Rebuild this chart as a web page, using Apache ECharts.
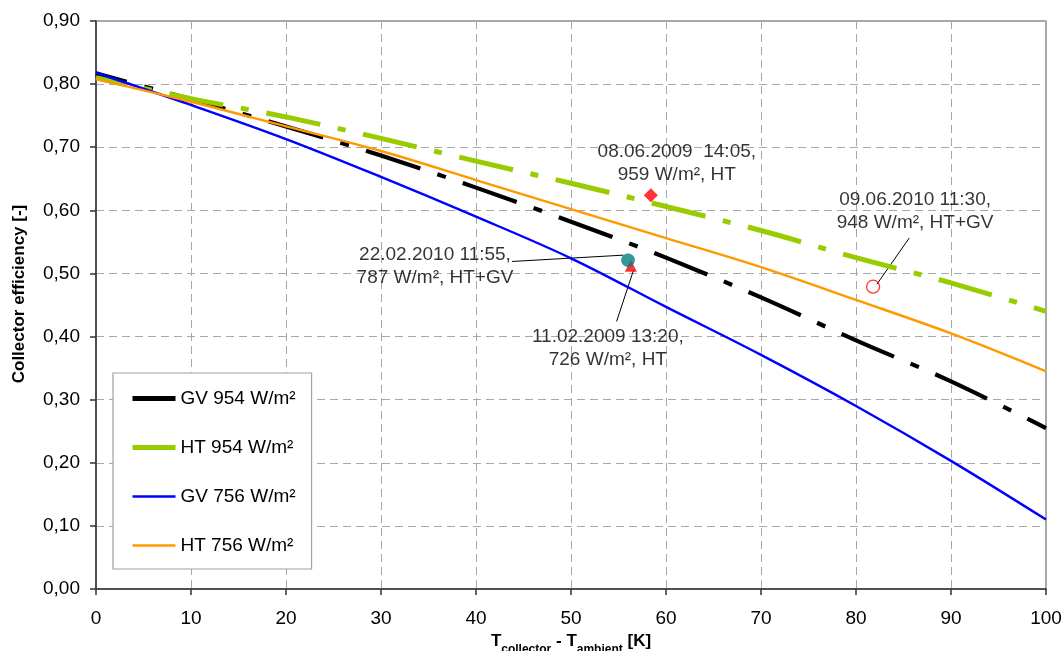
<!DOCTYPE html>
<html>
<head>
<meta charset="utf-8">
<title>Collector efficiency</title>
<script src="https://cdn.jsdelivr.net/npm/echarts@6.0.0/dist/echarts.min.js"></script>
<style>
  html, body { margin: 0; padding: 0; background: #fff; }
  #chart { width: 1062px; height: 651px; }
</style>
</head>
<body>
<div id="chart"></div>
<script>
// Temperature difference T_collector - T_ambient [K]
const deltaT = [0, 10, 20, 30, 40, 50, 60, 70, 80, 90, 100];

// Efficiency curves
const gv954 = [0.817, 0.776, 0.733, 0.687, 0.636, 0.582, 0.525, 0.462, 0.394, 0.329, 0.255];
const ht954 = [0.810, 0.777, 0.748, 0.714, 0.678, 0.643, 0.606, 0.568, 0.525, 0.485, 0.440];
const gv756 = [0.818, 0.767, 0.713, 0.653, 0.590, 0.524, 0.447, 0.371, 0.290, 0.203, 0.110];
const ht756 = [0.808, 0.772, 0.733, 0.694, 0.648, 0.602, 0.556, 0.510, 0.458, 0.405, 0.345];

const seriesNames = ['GV 954 W/m²', 'HT 954 W/m²', 'GV 756 W/m²', 'HT 756 W/m²'];

// Single measurements [deltaT, efficiency]
const measHT959 = [58.4, 0.624];
const measHTGV948 = [81.8, 0.479];
const measHTGV787 = [56.0, 0.521];
const measHT726 = [56.3, 0.512];

const noteHT959 = '08.06.2009  14:05,\n959 W/m², HT';
const noteHTGV948 = '09.06.2010 11:30,\n948 W/m², HT+GV';
const noteHTGV787 = '22.02.2010 11:55,\n787 W/m², HT+GV';
const noteHT726 = '11.02.2009 13:20,\n726 W/m², HT';

// Leader lines from note text to measurement
const leaderHTGV787 = [[43.8, 0.519], [55.5, 0.529]];
const leaderHT726 = [[54.8, 0.424], [56.6, 0.506]];
const leaderHTGV948 = [[85.6, 0.556], [82.2, 0.483]];

const xTicks = { min: 0, max: 100, interval: 10 };
const yTicks = { min: 0, max: 0.9, interval: 0.1 };

const FONT = '"Liberation Sans", Arial, Helvetica, sans-serif';

function pairs(ys) {
  return deltaT.map((x, i) => [x, ys[i]]);
}

function curve(name, ys, color, width, dash, offset) {
  return {
    name: name,
    type: 'line',
    data: pairs(ys),
    smooth: 0.35,
    symbol: 'none',
    showSymbol: false,
    clip: false,
    lineStyle: {
      color: color,
      width: width,
      type: dash || 'solid',
      dashOffset: offset || 0,
      cap: 'butt'
    },
    itemStyle: { color: color },
    emphasis: { disabled: true },
    animation: false
  };
}

function note(text, dx, dy) {
  return {
    show: true,
    position: 'inside',
    formatter: text,
    offset: [dx, dy],
    align: 'center',
    verticalAlign: 'middle',
    color: '#000',
    fontFamily: FONT,
    fontSize: 19,
    lineHeight: 23
  };
}

function legendItem(name, color, width) {
  return {
    name: name,
    itemStyle: { color: color, opacity: 0 },
    lineStyle: { type: 'solid', width: width, color: color, dashOffset: 0 }
  };
}

const chart = echarts.init(document.getElementById('chart'), null, { renderer: 'canvas' });

const option = {
  backgroundColor: '#fff',
  animation: false,
  textStyle: { fontFamily: FONT },
  grid: {
    left: 96, right: 16, top: 21, bottom: 62,
    containLabel: false,
    outerBoundsMode: 'none',
    show: true,
    backgroundColor: '#fff',
    borderColor: '#8c8c8c',
    borderWidth: 1.5
  },
  legend: {
    orient: 'vertical',
    left: 113,
    top: 373,
    padding: [16, 16, 14, 17],
    itemGap: 30,
    itemWidth: 43,
    itemHeight: 14,
    backgroundColor: '#fff',
    borderColor: '#a0a0a0',
    borderWidth: 1.2,
    borderRadius: 0,
    selectedMode: false,
    textStyle: { fontFamily: FONT, fontSize: 19, color: '#000' },
    data: [
      legendItem(seriesNames[0], '#000000', 5),
      legendItem(seriesNames[1], '#99cc00', 5),
      legendItem(seriesNames[2], '#0000ff', 2.5),
      legendItem(seriesNames[3], '#ff9900', 2.5)
    ]
  },
  xAxis: {
    type: 'value',
    min: xTicks.min, max: xTicks.max, interval: xTicks.interval,
    name: '{m|T}{s|collector}{m| - T}{s|ambient}{m| [K]}',
    nameLocation: 'middle',
    nameGap: 41,
    nameTextStyle: {
      rich: {
        m: { fontFamily: FONT, fontSize: 17, fontWeight: 'bold', color: '#000', lineHeight: 20, verticalAlign: 'top' },
        s: { fontFamily: FONT, fontSize: 12, fontWeight: 'bold', color: '#000', lineHeight: 12, padding: [11, 0, 0, 0], verticalAlign: 'top' }
      }
    },
    axisLine: { show: true, onZero: false, lineStyle: { color: '#333', width: 1.5 } },
    axisTick: { show: true, inside: false, length: 6, lineStyle: { color: '#333', width: 1.5 } },
    axisLabel: { margin: 20, fontFamily: FONT, fontSize: 19, color: '#000' },
    splitLine: { show: true, lineStyle: { color: '#a8a8a8', width: 1, type: [8, 5] } }
  },
  yAxis: {
    type: 'value',
    min: yTicks.min, max: yTicks.max, interval: yTicks.interval,
    name: 'Collector efficiency [-]',
    nameLocation: 'middle',
    nameGap: 68,
    nameRotate: 90,
    nameTextStyle: { fontFamily: FONT, fontSize: 17, fontWeight: 'bold', color: '#000', padding: [0, 0, 0, 22] },
    axisLine: { show: true, onZero: false, lineStyle: { color: '#333', width: 1.5 } },
    axisTick: { show: true, inside: false, length: 6, lineStyle: { color: '#333', width: 1.5 } },
    axisLabel: {
      margin: 16, fontFamily: FONT, fontSize: 19, color: '#000',
      formatter: v => v.toFixed(2).replace('.', ',')
    },
    splitLine: { show: true, lineStyle: { color: '#a8a8a8', width: 1, type: [8, 5] } }
  },
  series: [
    curve(seriesNames[0], gv954, '#000000', 4.2, [57, 18, 9, 18], 25),
    curve(seriesNames[1], ht954, '#99cc00', 5, [55, 18, 8, 18], 24),
    curve(seriesNames[2], gv756, '#0000ff', 2.4),
    curve(seriesNames[3], ht756, '#ff9900', 2.4),
    {
      name: 'leaders',
      type: 'lines',
      coordinateSystem: 'cartesian2d',
      polyline: false,
      silent: true,
      lineStyle: { color: '#000', width: 1, opacity: 1, curveness: 0 },
      symbol: 'none',
      data: [
        { coords: leaderHTGV787 },
        { coords: leaderHT726 },
        { coords: leaderHTGV948 }
      ],
      z: 3
    },
    {
      name: 'HT 726',
      type: 'scatter',
      symbol: 'triangle',
      symbolSize: 12,
      itemStyle: { color: '#ff0000' },
      data: [{ value: measHT726, label: note(noteHT726, -23, 82) }],
      z: 4
    },
    {
      name: 'HT+GV 787',
      type: 'scatter',
      symbol: 'circle',
      symbolSize: 13,
      itemStyle: { color: '#008080', borderColor: '#006666', borderWidth: 0.5 },
      data: [{ value: measHTGV787, label: note(noteHTGV787, -193, 6) }],
      z: 5
    },
    {
      name: 'HT 959',
      type: 'scatter',
      symbol: 'diamond',
      symbolSize: 14,
      itemStyle: { color: '#ff0000' },
      data: [{ value: measHT959, label: note(noteHT959, 26, -32) }],
      z: 5
    },
    {
      name: 'HT+GV 948',
      type: 'scatter',
      symbol: 'circle',
      symbolSize: 13,
      itemStyle: { color: 'rgba(255,255,255,0)', borderColor: '#ff0000', borderWidth: 1.3 },
      data: [{ value: measHTGV948, label: note(noteHTGV948, 42, -75) }],
      z: 5
    }
  ]
};

chart.setOption(option);
</script>
</body>
</html>
